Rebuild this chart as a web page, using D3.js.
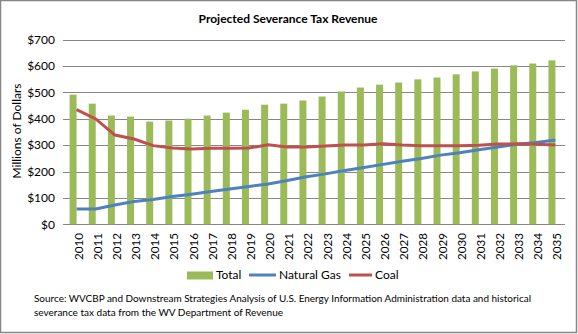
<!DOCTYPE html>
<html>
<head>
<meta charset="utf-8">
<script src="https://cdn.jsdelivr.net/npm/d3@7"></script>
<style>
  body { margin: 0; background: #fff; }
  text { font-family: Lato, "Noto Sans", sans-serif; fill: #000; }
</style>
</head>
<body>
<script>
// categorie (anni)
var years = ["2010","2011","2012","2013","2014","2015","2016","2017","2018","2019","2020","2021","2022",
  "2023","2024","2025","2026","2027","2028","2029","2030","2031","2032","2033","2034","2035"];

// serie (milioni di dollari)
var totalValues = [491,457,412,408,389,393,400,412,423,434,453,457,469,484,503,518,529,537,549,556,568,579,590,602,609,621];
var gasValues = [58,58,73,86,94,105,114,124,134,143,153,166,180,191,204,215,227,239,249,262,271,282,293,303,310,319];
var coalValues = [434,399,338,323,298,289,285,288,288,289,301,293,293,297,300,300,305,300,298,298,298,299,304,305,303,300];

// etichette asse y
var yTicks = [0,100,200,300,400,500,600,700];

var width = 578, height = 334;

var svg = d3.select("body").append("svg")
  .attr("width", width)
  .attr("height", height);

// bordo del grafico
svg.append("rect")
  .attr("x", 0.5).attr("y", 0.5)
  .attr("width", 576).attr("height", 332)
  .style("fill", "none")
  .style("stroke", "#868686")
  .style("stroke-width", 1.5);

// scale
var x = d3.scaleBand().domain(years).range([67, 565]).paddingInner(0.27).paddingOuter(0.135);
// due posti per categoria: il secondo è vuoto (come in Excel)
var xSub = d3.scaleBand().domain(["Total", "empty"]).range([0, x.bandwidth()]);
var y = d3.scaleLinear().domain([0, 700]).range([224.3, 39.5]);

// griglia
svg.append("g").selectAll("line")
  .data(yTicks)
  .enter().append("line")
  .attr("x1", 63).attr("x2", 565)
  .attr("y1", d => Math.round(y(d)) + 0.5)
  .attr("y2", d => Math.round(y(d)) + 0.5)
  .style("stroke", "#868686")
  .style("stroke-width", 1);

// etichette y
svg.append("g").selectAll("text")
  .data(yTicks)
  .enter().append("text")
  .attr("x", 55)
  .attr("y", d => y(d))
  .attr("dy", "0.35em")
  .attr("text-anchor", "end")
  .style("font-size", "12px")
  .text(d => "$" + d);

// titolo asse y
svg.append("text")
  .attr("transform", "translate(21,131) rotate(-90)")
  .attr("text-anchor", "middle")
  .style("font-size", "12px")
  .text("Millions of Dollars");

// barre Total
svg.append("g").selectAll("rect")
  .data(totalValues)
  .enter().append("rect")
  .attr("x", (d, i) => x(years[i]) + xSub("Total"))
  .attr("width", xSub.bandwidth())
  .attr("y", d => y(d))
  .attr("height", d => y(0) - y(d))
  .style("fill", "#9BBB59");

// linee
var line = d3.line()
  .x((d, i) => x(years[i]) + x.bandwidth() / 2)
  .y(d => y(d));

svg.append("path")
  .datum(gasValues)
  .attr("d", line)
  .style("fill", "none")
  .style("stroke", "#4F81BD")
  .style("stroke-width", 3);

svg.append("path")
  .datum(coalValues)
  .attr("d", line)
  .style("fill", "none")
  .style("stroke", "#C0504D")
  .style("stroke-width", 3);

// etichette anni (ruotate)
svg.append("g").selectAll("text")
  .data(years)
  .enter().append("text")
  .attr("transform", d => "translate(" + (x(d) + x.bandwidth() / 2 + 6) + ",233) rotate(-90)")
  .attr("text-anchor", "end")
  .style("font-size", "11.6px")
  .text(d => d);

// titolo
svg.append("text")
  .attr("x", 288).attr("y", 23)
  .attr("text-anchor", "middle")
  .style("font-size", "12px")
  .style("font-weight", "bold")
  .text("Projected Severance Tax Revenue");

// legenda
var legend = svg.append("g");
legend.append("rect")
  .attr("x", 187).attr("y", 271.5)
  .attr("width", 26).attr("height", 8)
  .style("fill", "#9BBB59");
legend.append("text").attr("x", 216).attr("y", 275).attr("dy", "0.35em")
  .style("font-size", "12px").text("Total");

legend.append("line")
  .attr("x1", 249).attr("x2", 276).attr("y1", 275).attr("y2", 275)
  .style("stroke", "#4F81BD").style("stroke-width", 3);
legend.append("text").attr("x", 279).attr("y", 275).attr("dy", "0.35em")
  .style("font-size", "12px").text("Natural Gas");

legend.append("line")
  .attr("x1", 349).attr("x2", 372).attr("y1", 275).attr("y2", 275)
  .style("stroke", "#C0504D").style("stroke-width", 3);
legend.append("text").attr("x", 375).attr("y", 275).attr("dy", "0.35em")
  .style("font-size", "12px").text("Coal");

// fonte
svg.append("text")
  .attr("x", 34).attr("y", 302)
  .attr("textLength", 497).attr("lengthAdjust", "spacingAndGlyphs")
  .style("font-size", "10px")
  .text("Source: WVCBP and Downstream Strategies Analysis of U.S. Energy Information Administration data and historical");
svg.append("text")
  .attr("x", 34).attr("y", 315.5)
  .attr("textLength", 249).attr("lengthAdjust", "spacingAndGlyphs")
  .style("font-size", "10px")
  .text("severance tax data from the WV Department of Revenue");
</script>
</body>
</html>
